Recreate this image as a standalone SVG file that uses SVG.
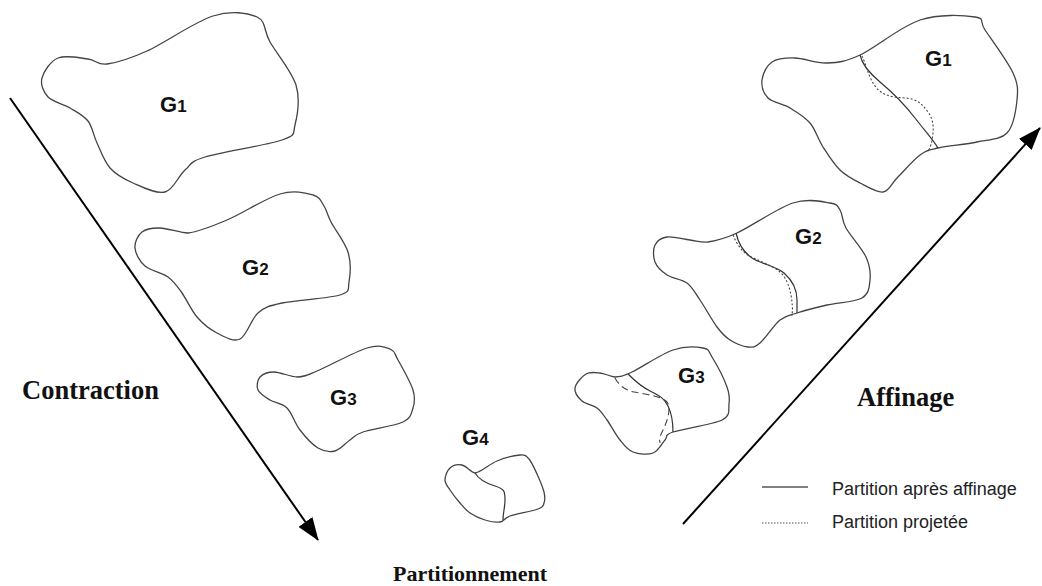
<svg xmlns="http://www.w3.org/2000/svg" width="1042" height="586" viewBox="0 0 1042 586">
<style>
.blob{fill:none;stroke:#444;stroke-width:1.3;stroke-linejoin:round}
.part{fill:none;stroke:#333;stroke-width:1.2}
.proj{fill:none;stroke:#444;stroke-width:1.1;stroke-dasharray:2,2}
.dash{fill:none;stroke:#444;stroke-width:1.1;stroke-dasharray:7,4}
.arrow{stroke:#000;stroke-width:2;fill:none}
.g{font-family:"Liberation Sans",Arial,sans-serif;font-weight:bold;font-size:22px;fill:#111}
.g tspan{font-size:17px}
.big{font-family:"Liberation Serif","Times New Roman",serif;font-weight:bold;fill:#111}
.leg{font-family:"Liberation Sans",Arial,sans-serif;font-size:18px;fill:#222}
</style>
<defs>
<marker id="ah" markerUnits="userSpaceOnUse" markerWidth="23" markerHeight="17" viewBox="0 0 23 17" refX="22" refY="8.5" orient="auto">
<path d="M0,0 L23,8.5 L0,17 Z" fill="#000"/>
</marker>
</defs>
<g id="left-G1">
<path class="blob" d="M 107,64 C 116.8,62.7 129.3,59 147,51 S 194.7,21.7 213,16 S 247.5,12.7 257,17 S 263.5,30.7 270,42 S 291.8,71.2 296,85 S 297.3,115.8 295,125 S 297,134.7 282,140 S 221.2,152 205,157 S 191.7,164.2 185,170 S 173.7,189.8 165,192 S 142.2,187 133,183 S 116,174.7 110,168 S 100.7,150.8 97,143 S 92.5,126.8 88,121 S 76.7,112 70,108 S 52.7,102 48,97 S 40.3,84.5 42,78 S 50.3,61.2 58,58 S 79.8,58 88,59 S 97.2,65.3 107,64 Z"/>
<text class="g" x="160" y="112">G<tspan>1</tspan></text>
</g>
<g id="left-G2">
<path class="blob" d="M 188,233 C 199.2,231.7 211.7,226.5 227,220 S 265.7,198.2 280,194 S 305.7,193 313,195 S 321,201.5 324,206 S 327,214.3 331,222 S 345,242 348,252 S 350.3,274.8 349,282 S 351.2,291.5 340,295 S 295.7,300 282,303 S 265,307 258,313 S 246.8,335.7 240,339 S 224.2,336.7 217,333 S 202.8,323.7 197,317 S 186.8,299.7 182,293 S 174.2,281.5 168,277 S 150.5,270.8 145,266 S 135.5,253.7 135,248 S 137.8,235.3 142,232 S 152.3,227.8 160,228 S 180.3,233 188,233 Z"/>
<text class="g" x="242" y="275">G<tspan>2</tspan></text>
</g>
<g id="left-G3">
<path class="blob" d="M 297,377 C 304.2,376.8 305.3,375.8 317,371 S 354.8,351.7 367,348 S 384.8,347 390,349 S 394.2,353.2 398,360 S 410.5,382 413,390 S 414.7,402.7 413,408 S 411.3,418 403,422 S 371.8,429 363,432 S 354.7,436.8 350,440 S 340.3,449.7 335,451 S 323.8,451.5 318,448 S 305.2,436.7 300,430 S 292,413 287,408 S 274.8,403 270,400 S 259.7,393.8 258,390 S 257.3,380 260,377 S 267.8,372 274,372 S 290.8,377 297,377 Z"/>
<text class="g" x="330" y="405">G<tspan>3</tspan></text>
</g>
<g id="G4">
<path class="blob" d="M 475,473 C 480.8,472.3 489.5,464 497,461 S 514.7,455.3 520,455 S 526.2,455.8 529,459 S 534.5,468.5 537,474 S 542.8,487.2 544,492 S 545,500.2 544,503 S 543.7,506.8 538,509 S 516.3,513.8 510,516 S 504.2,521.3 500,522 S 490,521.5 485,520 S 474.2,515.8 470,513 S 463.3,506.8 460,503 S 452.5,493.8 450,490 S 445,483.7 445,480 S 447.2,470.5 450,468 S 457.8,464.2 462,465 S 470.8,472.2 475,473 Z"/>
<path class="part" d="M 475,473 C 478,478 485,483 495,486 S 505,492 505,500 S 503,512 503,520"/>
<text class="g" x="462" y="445">G<tspan>4</tspan></text>
</g>
<g id="right-G3">
<path class="blob" d="M 615,377 C 620.3,376.8 622.3,376.5 632,372 S 661.2,354 673,350 S 696.5,346.8 703,348 S 708,350.5 712,357 S 724.2,379.2 727,387 S 729.8,398.5 729,404 S 731.3,415.3 722,420 S 682.5,428.7 673,432 S 668.3,436.5 665,440 S 658.3,451 653,453 S 638.5,454.2 633,452 S 624.3,445.3 620,440 S 610.8,425.3 607,420 S 601.2,411.2 597,408 S 585.7,404.3 582,401 S 574.3,392.5 575,388 S 581.8,376.5 586,374 S 595.2,372.5 600,373 S 610.2,376.5 615,377 Z"/>
<path class="part" d="M 628,374 C 634,380 640,386 650,391 S 664,398 668,406 S 673,424 673,432"/>
<path class="dash" d="M 615,378 C 618,384 624,390 634,392 S 660,396 666,401 S 668,420 663,430 S 660,440 660,443"/>
<text class="g" x="678" y="383">G<tspan>3</tspan></text>
</g>
<g id="right-G2">
<path class="blob" d="M 708,242 C 715.8,240.8 722.8,239.5 737,233 S 777.5,208 793,203 S 822.2,201.8 830,203 S 837.3,205.8 840,210 S 841.7,220.2 846,228 S 862,248.3 866,257 S 870.7,273.2 870,280 S 869.2,293.8 862,298 S 837.8,302.5 827,305 S 804.8,310.5 797,313 S 786.2,315 780,320 S 765.3,338.5 760,343 S 753,347.5 748,347 S 735.2,343.3 730,340 S 722,333.7 717,327 S 705,307.3 700,300 S 692.5,287.2 687,283 S 672.3,278.5 667,275 S 657,267 655,262 S 653,249.2 655,245 S 661.2,237.8 667,237 S 683.2,239.2 690,240 S 701.2,242.8 708,242 Z"/>
<path class="part" d="M 736,233 C 738,242 743,252 752,258 S 776,266 784,273 S 797,290 797,300 S 797,310 797,313"/>
<path class="proj" d="M 733,235 C 736,242 740,250 748,255 S 772,265 780,272 S 791,292 792,302 S 792,312 792,316"/>
<text class="g" x="795" y="244">G<tspan>2</tspan></text>
</g>
<g id="right-G1">
<path class="blob" d="M 827,63 C 837.8,62.5 844.5,62.2 860,55 S 900.8,26.3 920,20 S 964.2,15.3 975,17 S 978.7,20.7 985,30 S 1007.7,61.3 1013,73 S 1018,90 1017,100 S 1013.7,126 1007,133 S 988.5,139.5 977,142 S 947.5,145.8 938,148 S 926.8,150 920,155 S 903.2,171.8 897,178 S 889.2,191.2 883,192 S 867.2,186.7 860,183 S 846.2,176 840,170 S 828,154.8 823,147 S 815.5,129.5 810,123 S 797,112.2 790,108 S 772.7,102.7 768,98 S 761.3,86 762,80 S 766.5,65.7 772,62 S 785.8,57.8 795,58 S 816.2,63.5 827,63 Z"/>
<path class="part" d="M 860,55 C 862,64 868,72 880,82 S 905,105 915,118 S 932,138 938,148"/>
<path class="proj" d="M 862,56 C 866,64 868,76 875,86 S 892,97 905,98 S 922,104 928,112 S 934,130 932,140 S 929,148 928,152"/>
<text class="g" x="925" y="66">G<tspan>1</tspan></text>
</g>
<g id="connectors">
<line class="arrow" x1="10" y1="98" x2="318" y2="540" marker-end="url(#ah)"/>
<line class="arrow" x1="683" y1="524" x2="1040" y2="128" marker-end="url(#ah)"/>
</g>
<g id="labels">
<text class="big" x="22" y="399" font-size="26.5">Contraction</text>
<text class="big" x="857" y="406" font-size="26.5">Affinage</text>
<text class="big" x="393" y="581" font-size="22">Partitionnement</text>
</g>
<g id="legend">
<line x1="762" y1="487" x2="808" y2="487" stroke="#555" stroke-width="1.3"/>
<line x1="762" y1="523" x2="808" y2="523" stroke="#555" stroke-width="1.1" stroke-dasharray="1.5,1.5"/>
<text class="leg" x="832" y="495">Partition après affinage</text>
<text class="leg" x="832" y="528">Partition projetée</text>
</g>
</svg>
